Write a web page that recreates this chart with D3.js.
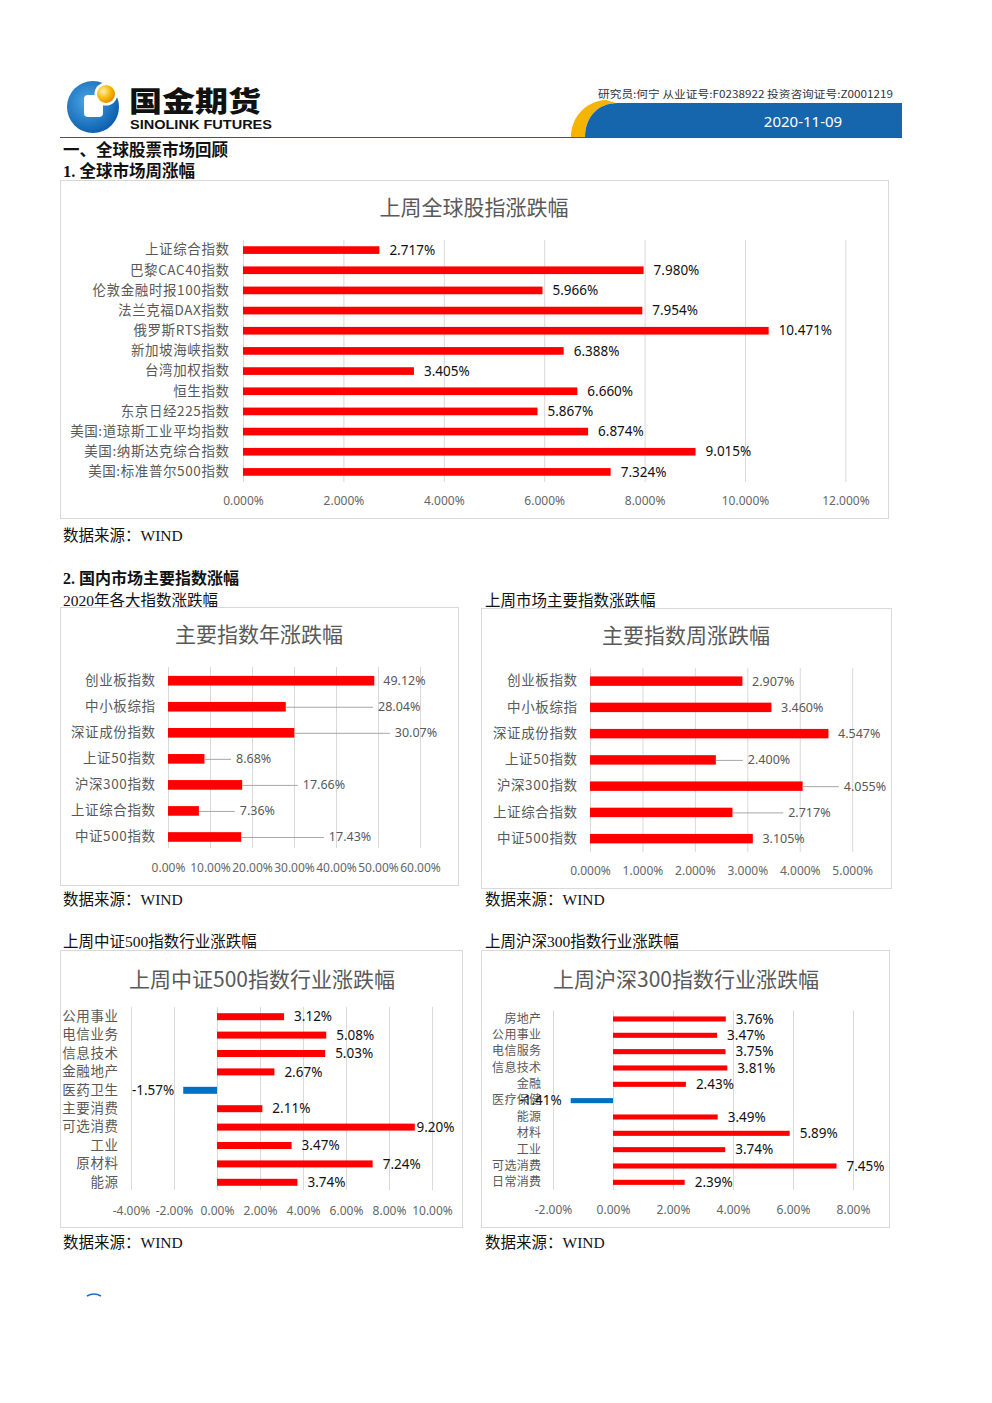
<!DOCTYPE html>
<html><head><meta charset="utf-8">
<script src="https://cdn.jsdelivr.net/npm/d3@7"></script>
<style>body{margin:0;background:#fff} svg{display:block}</style>
</head><body><svg id="page" width="992" height="1403"></svg>
<script>
// ---------------- data ----------------
const globalNames = ["上证综合指数","巴黎CAC40指数","伦敦金融时报100指数","法兰克福DAX指数","俄罗斯RTS指数","新加坡海峡指数","台湾加权指数","恒生指数","东京日经225指数","美国:道琼斯工业平均指数","美国:纳斯达克综合指数","美国:标准普尔500指数"];
const globalValues = [2.717,7.980,5.966,7.954,10.471,6.388,3.405,6.660,5.867,6.874,9.015,7.324];
const globalTicks = [0,2,4,6,8,10,12];

const yearNames = ["创业板指数","中小板综指","深证成份指数","上证50指数","沪深300指数","上证综合指数","中证500指数"];
const yearValues = [49.12,28.04,30.07,8.68,17.66,7.36,17.43];
const yearTicks = [0,10,20,30,40,50,60];

const weekNames = ["创业板指数","中小板综指","深证成份指数","上证50指数","沪深300指数","上证综合指数","中证500指数"];
const weekValues = [2.907,3.460,4.547,2.400,4.055,2.717,3.105];
const weekTicks = [0,1,2,3,4,5];

const csi500Names = ["公用事业","电信业务","信息技术","金融地产","医药卫生","主要消费","可选消费","工业","原材料","能源"];
const csi500Values = [3.12,5.08,5.03,2.67,-1.57,2.11,9.20,3.47,7.24,3.74];
const csi500Ticks = [-4,-2,0,2,4,6,8,10];

const hs300Names = ["房地产","公用事业","电信服务","信息技术","金融","医疗保健","能源","材料","工业","可选消费","日常消费"];
const hs300Values = [3.76,3.47,3.75,3.81,2.43,-1.41,3.49,5.89,3.74,7.45,2.39];
const hs300Ticks = [-2,0,2,4,6,8];

// data-label anchor (in value units) where the source chart moved labels (null = default)
const yearLabelAt = [null,50.0,54.0,16.2,32.1,17.1,38.3];
const weekLabelAt = [null,null,null,3.01,4.84,3.78,null];
const csi500LabelAt = [null,null,null,null,null,null,9.28,null,null,null];

// ---------------- page ----------------
const svg = d3.select("#page");
const CJK = "'Noto Sans CJK SC','Noto Sans',sans-serif";
const LAT = "'Noto Sans','Noto Sans CJK SC',sans-serif";
const SERIF = "'Liberation Serif','Noto Sans CJK SC',serif";

// header logo
const defs = svg.append("defs");
const bg = defs.append("radialGradient").attr("id","blueG").attr("cx","40%").attr("cy","40%").attr("r","65%");
bg.append("stop").attr("offset","0%").attr("stop-color","#4aa8e8");
bg.append("stop").attr("offset","100%").attr("stop-color","#0b5cab");
const yg = defs.append("radialGradient").attr("id","ballG").attr("cx","35%").attr("cy","35%").attr("r","70%");
yg.append("stop").attr("offset","0%").attr("stop-color","#fff2b0");
yg.append("stop").attr("offset","60%").attr("stop-color","#f7b500");
yg.append("stop").attr("offset","100%").attr("stop-color","#e08a00");

svg.append("circle").attr("cx",93).attr("cy",107).attr("r",26).attr("fill","url(#blueG)");
svg.append("rect").attr("x",84).attr("y",95).attr("width",19).attr("height",22).attr("rx",4).attr("fill","#fff");
svg.append("circle").attr("cx",106).attr("cy",94).attr("r",11.5).attr("fill","#fff");
svg.append("circle").attr("cx",106).attr("cy",94).attr("r",9).attr("fill","url(#ballG)");

svg.append("text").attr("x",129).attr("y",100).attr("dominant-baseline","central")
  .style("font-family",CJK).style("font-weight",900).style("font-size","28px").attr("fill","#111")
  .attr("textLength",132).attr("lengthAdjust","spacingAndGlyphs").text("国金期货");
svg.append("text").attr("x",130).attr("y",124.5).attr("dominant-baseline","central")
  .style("font-family","'Liberation Sans',sans-serif").style("font-weight",700).style("font-size","12.5px").attr("fill","#111")
  .attr("textLength",142).attr("lengthAdjust","spacingAndGlyphs").text("SINOLINK FUTURES");

// header right band
svg.append("path").attr("d","M571,137 C571,117 586,101 606,100 L616,103 C597,104 585,118 585,137 Z").attr("fill","#f5b400");
svg.append("path").attr("d","M585,137 C585,118 597,103 618,103 L902,103 L902,137 Z").attr("fill","#1666ae");
svg.append("line").attr("x1",60).attr("x2",902).attr("y1",137.5).attr("y2",137.5).attr("stroke","#2d5a8a").attr("stroke-width",1);
svg.append("text").attr("x",598).attr("y",93).attr("dominant-baseline","central")
  .style("font-family",CJK).style("font-size","10px").attr("fill","#333")
  .attr("textLength",295).attr("lengthAdjust","spacingAndGlyphs")
  .text("研究员:何宁  从业证号:F0238922  投资咨询证号:Z0001219");
svg.append("text").attr("x",803).attr("y",121).attr("text-anchor","middle").attr("dominant-baseline","central")
  .style("font-family",LAT).style("font-size","15px").attr("fill","#fff").text("2020-11-09");

// section texts
function txt(x,y,s,size,weight){
  svg.append("text").attr("x",x).attr("y",y).attr("dominant-baseline","central")
    .style("font-family",SERIF).style("font-size",size+"px").style("font-weight",weight||400)
    .attr("fill","#111").text(s);
}
txt(63,150,"一、全球股票市场回顾",16.5,700);
txt(63,171,"1. 全球市场周涨幅",16.5,700);
txt(63,535,"数据来源：WIND",15.5);
txt(63,578,"2. 国内市场主要指数涨幅",16,700);
txt(63,600,"2020年各大指数涨跌幅",15.5);
txt(485,600,"上周市场主要指数涨跌幅",15.5);
txt(63,899,"数据来源：WIND",15.5);
txt(485,899,"数据来源：WIND",15.5);
txt(63,941,"上周中证500指数行业涨跌幅",15.5);
txt(485,941,"上周沪深300指数行业涨跌幅",15.5);
txt(63,1242,"数据来源：WIND",15.5);
txt(485,1242,"数据来源：WIND",15.5);
svg.append("path").attr("d","M87,1296 Q94,1292 101,1296").attr("fill","none").attr("stroke","#1a6fc0").attr("stroke-width",1.5);

// ---------------- chart builder ----------------
function barChart(o){
  const g = svg.append("g");
  const [bx0,by0,bx1,by1] = o.box;
  g.append("rect").attr("x",bx0+.5).attr("y",by0+.5).attr("width",bx1-bx0).attr("height",by1-by0)
    .attr("fill","#fff").attr("stroke","#d9d9d9");
  g.append("text").attr("x",o.titleX).attr("y",o.titleY).attr("text-anchor","middle").attr("dominant-baseline","central")
    .style("font-family",CJK).style("font-size",o.titleSize+"px").attr("fill","#595959").text(o.title);

  const x = d3.scaleLinear().domain(o.domain).range(o.xRange);
  const y = d3.scaleBand().domain(o.names).range(o.yRange).paddingInner(o.pad).paddingOuter(o.pad/2);

  // gridlines
  const grid = g.append("g").attr("transform",`translate(0,${o.gridBottom})`)
    .call(d3.axisBottom(x).tickValues(o.ticks).tickSize(-(o.gridBottom-o.gridTop)).tickFormat(""));
  grid.select(".domain").remove();
  grid.selectAll("line").attr("stroke","#d9d9d9");

  // x tick labels
  const ax = g.append("g").attr("transform",`translate(0,${o.tickY})`)
    .call(d3.axisBottom(x).tickValues(o.ticks).tickSize(0).tickPadding(0).tickFormat(d => d.toFixed(o.dec)+"%"));
  ax.select(".domain").remove();
  ax.selectAll("text").attr("y",0).attr("dy","0.35em").attr("fill","#666")
    .style("font-family",LAT).style("font-size",o.tickSize+"px");

  // category labels
  const ay = g.append("g").attr("transform",`translate(${o.catX + (o.catSpace||0)},0)`)
    .call(d3.axisLeft(y).tickSize(0).tickPadding(0));
  ay.select(".domain").remove();
  ay.selectAll("text").attr("fill","#595959").style("font-family",CJK).style("font-size",o.catSize+"px")
    .style("letter-spacing",(o.catSpace||0)+"px");

  const data = o.names.map((n,i)=>({n, v:o.values[i], at:o.labelAt?o.labelAt[i]:null}));
  g.selectAll("rect.bar").data(data).join("rect").attr("class","bar")
    .attr("x",d=>x(Math.min(0,d.v))).attr("width",d=>Math.abs(x(d.v)-x(0)))
    .attr("y",d=>y(d.n)).attr("height",y.bandwidth())
    .attr("fill",d=>d.v<0?"#0070c0":"#ff0000");

  data.forEach(d=>{
    const cy = y(d.n)+y.bandwidth()/2;
    let lx, anchor;
    if(d.v<0){ lx = x(d.v)-9; anchor="end"; }
    else { lx = d.at!=null ? x(d.at) : x(d.v)+o.gap; anchor="start"; }
    if(d.at!=null && lx - x(d.v) > 12){
      g.append("line").attr("x1",x(d.v)).attr("x2",lx-5).attr("y1",cy+.5).attr("y2",cy+.5)
        .attr("stroke","#a6a6a6").attr("stroke-width",1);
    }
    g.append("text").attr("x",lx).attr("y",cy).attr("dy","0.35em").attr("text-anchor",anchor)
      .style("font-family",LAT).style("font-size",o.valSize+"px").attr("fill",o.valColor)
      .text(d.v.toFixed(o.valDec)+"%");
  });
}

barChart({box:[60,180,888,518], title:"上周全球股指涨跌幅", titleX:474, titleY:206, titleSize:21,
  names:globalNames, values:globalValues, ticks:globalTicks, domain:[0,12], xRange:[243,845.4],
  yRange:[240,482], pad:0.62, gridTop:240, gridBottom:482, tickY:501, dec:3, tickSize:12,
  catX:229, catSize:13.5, catSpace:0.6, valSize:13.5, valColor:"#111", valDec:3, gap:10});

barChart({box:[60,607,458,885], title:"主要指数年涨跌幅", titleX:259, titleY:633, titleSize:21,
  names:yearNames, values:yearValues, ticks:yearTicks, domain:[0,60], xRange:[168,420],
  yRange:[667.7,850], pad:0.63, gridTop:667, gridBottom:848, tickY:867.5, dec:2, tickSize:12,
  catX:155, catSize:13.5, catSpace:0.6, valSize:12.5, valColor:"#595959", valDec:2, gap:9, labelAt:yearLabelAt});

barChart({box:[481,608,891,888], title:"主要指数周涨跌幅", titleX:686, titleY:634, titleSize:21,
  names:weekNames, values:weekValues, ticks:weekTicks, domain:[0,5], xRange:[590,852.2],
  yRange:[668,851.8], pad:0.64, gridTop:668, gridBottom:852, tickY:871, dec:3, tickSize:12,
  catX:577, catSize:13.5, catSpace:0.6, valSize:12.5, valColor:"#595959", valDec:3, gap:9.6, labelAt:weekLabelAt});

barChart({box:[60,950,462,1227], title:"上周中证500指数行业涨跌幅", titleX:262, titleY:978, titleSize:21,
  names:csi500Names, values:csi500Values, ticks:csi500Ticks, domain:[-4,10], xRange:[131,432],
  yRange:[1007.5,1191.5], pad:0.62, gridTop:1007, gridBottom:1190, tickY:1210.5, dec:2, tickSize:12,
  catX:118, catSize:13.5, catSpace:0.6, valSize:13.5, valColor:"#111", valDec:2, gap:10, labelAt:csi500LabelAt});

barChart({box:[481,950,889,1227], title:"上周沪深300指数行业涨跌幅", titleX:686, titleY:978, titleSize:21,
  names:hs300Names, values:hs300Values, ticks:hs300Ticks, domain:[-2,8], xRange:[553,853],
  yRange:[1010.8,1190.5], pad:0.69, gridTop:1010.5, gridBottom:1190, tickY:1209.5, dec:2, tickSize:12,
  catX:541, catSize:12, catSpace:0.3, valSize:13.5, valColor:"#111", valDec:2, gap:10});
</script>
</body></html>
